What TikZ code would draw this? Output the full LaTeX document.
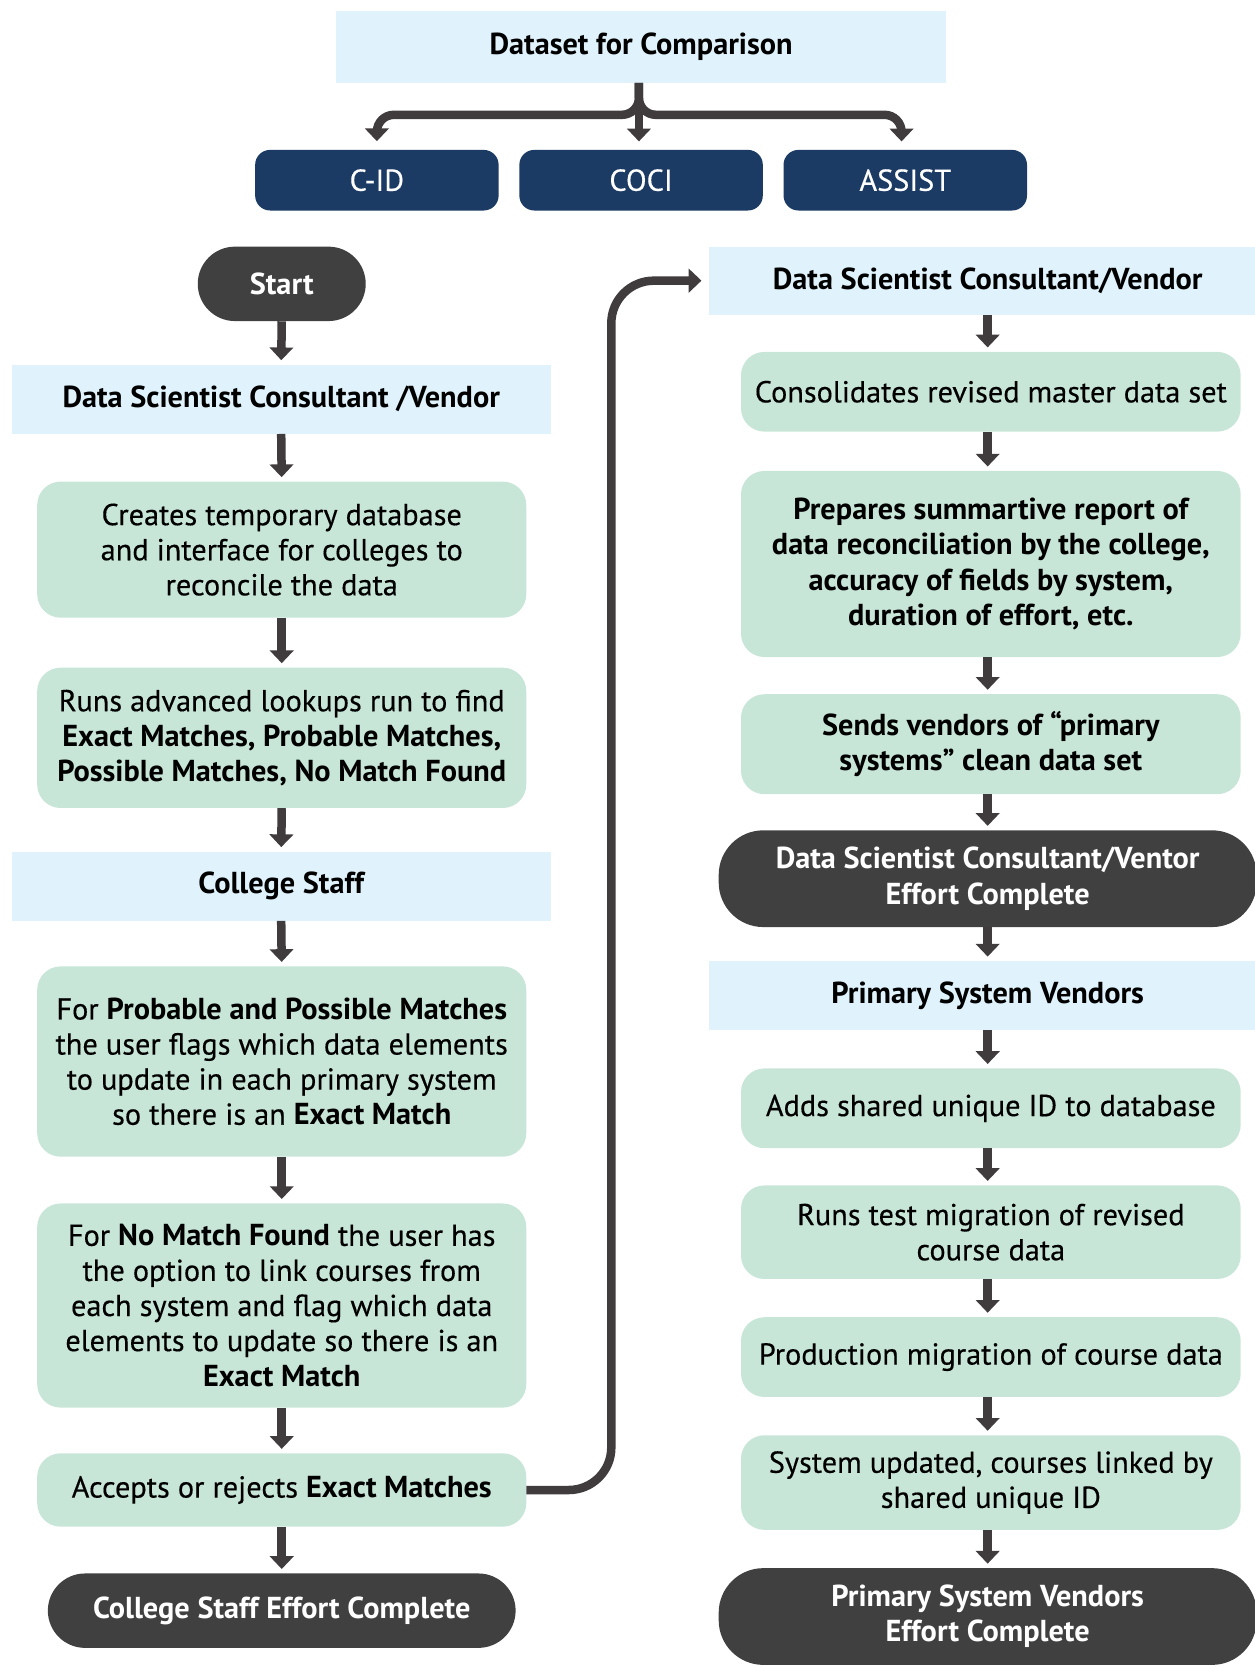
\documentclass[tikz,border=0pt]{standalone}
\usepackage{fontspec}
\setmainfont{PT Sans}[UprightFeatures={FakeBold=0.35}]
\usetikzlibrary{arrows.meta,calc}
\definecolor{hdrblue}{HTML}{E0F3FC}
\definecolor{mint}{HTML}{C8E6D8}
\definecolor{navy}{HTML}{1B3A64}
\definecolor{darkg}{HTML}{404040}
\definecolor{arrowc}{HTML}{403B3C}
\newcommand{\fs}{\fontsize{28.5}{33}\selectfont}
\tikzset{
  hdr/.style={fill=hdrblue, draw=none, inner sep=0pt, align=center, font=\fs\bfseries},
  navybox/.style={fill=navy, draw=none, rounded corners=14pt, inner sep=0pt, align=center, text=white, font=\fs, minimum width=229pt, minimum height=57pt},
  stepbox/.style={fill=mint, draw=none, rounded corners=22pt, inner sep=0pt, align=center, font=\fs, minimum width=460pt},
  rstepbox/.style={stepbox, minimum width=470pt},
  endbox/.style={fill=darkg, draw=none, inner sep=0pt, align=center, text=white, font=\fs\bfseries},
  arr/.style={draw=arrowc, line width=8pt, -{Triangle[width=22pt,length=12pt]}, shorten >=4pt},
}
\begin{document}
\begin{tikzpicture}[x=1pt,y=-1pt]
\useasboundingbox (0,0) rectangle (1180,1568);
% top
\node[hdr, minimum width=574pt, minimum height=68pt] (ds) at (603,44) {Dataset for Comparison};
\node[navybox] (cid) at (354.5,169.5) {C-ID};
\node[navybox] (coci) at (603,169.5) {COCI};
\node[navybox] (assist) at (851.5,169.5) {ASSIST};
\coordinate (dsb) at (601,78);
\draw[arr, rounded corners=16pt, shorten >=8pt] (dsb) |- (cid.north |- 0,108) -- (cid.north);
\draw[arr, rounded corners=16pt, shorten >=8pt] (dsb) |- (848,108) -- (848,141);
\draw[arr, shorten >=8pt] (dsb) -- (601,141);
% left column
\node[endbox, minimum width=158pt, minimum height=70pt, rounded corners=35pt] (start) at (265,267) {Start};
\node[hdr, minimum width=507pt, minimum height=65pt] (lh1) at (264.5,375.5) {Data Scientist Consultant /Vendor};
\node[stepbox, minimum height=128pt] (b1) at (265,517) {Creates temporary database\\and interface for colleges to\\reconcile the data};
\node[stepbox, minimum height=132pt] (b2) at (265,694) {Runs advanced lookups run to find\\\textbf{Exact Matches, Probable Matches,}\\\textbf{Possible Matches, No Match Found}};
\node[hdr, minimum width=507pt, minimum height=65pt] (lh2) at (264.5,833.5) {College Staff};
\node[stepbox, minimum height=179pt] (b3) at (265,998.5) {For \textbf{Probable and Possible Matches}\\the user flags which data elements\\to update in each primary system\\so there is an \textbf{Exact Match}};
\node[stepbox, minimum height=192pt] (b4) at (265,1228) {For \textbf{No Match Found} the user has\\the option to link courses from\\each system and flag which data\\elements to update so there is an\\\textbf{Exact Match}};
\node[stepbox, minimum height=69pt] (acc) at (265,1401.5) {Accepts or rejects \textbf{Exact Matches}};
\node[endbox, minimum width=440pt, minimum height=70pt, rounded corners=35pt] (lend) at (265,1515) {College Staff Effort Complete};
\draw[arr] (start.south) -- (lh1.north);
\draw[arr] (lh1.south) -- (b1.north);
\draw[arr] (b1.south) -- (b2.north);
\draw[arr] (b2.south) -- (lh2.north);
\draw[arr] (lh2.south) -- (b3.north);
\draw[arr] (b3.south) -- (b4.north);
\draw[arr] (b4.south) -- (acc.north);
\draw[arr] (acc.south) -- (lend.north);
% right column
\node[hdr, minimum width=524pt, minimum height=64pt] (rh1) at (929,264) {Data Scientist Consultant/Vendor};
\node[rstepbox, minimum height=75pt] (r1) at (932,368.5) {Consolidates revised master data set};
\node[rstepbox, minimum height=175pt, font=\fs\bfseries] (r2) at (932,530.5) {Prepares summartive report of\\data reconciliation by the college,\\accuracy of fields by system,\\duration of effort, etc.};
\node[rstepbox, minimum height=94pt, font=\fs\bfseries] (r3) at (932,700) {Sends vendors of “primary\\systems” clean data set};
\node[endbox, minimum width=506pt, minimum height=91pt, rounded corners=42pt] (rend1) at (929,826.5) {Data Scientist Consultant/Ventor\\Effort Complete};
\node[hdr, minimum width=524pt, minimum height=65pt] (rh2) at (929,936.5) {Primary System Vendors};
\node[rstepbox, minimum height=75pt] (r4) at (932,1042.5) {Adds shared unique ID to database};
\node[rstepbox, minimum height=88pt] (r5) at (932,1159) {Runs test migration of revised\\course data};
\node[rstepbox, minimum height=75pt] (r6) at (932,1276.5) {Production migration of course data};
\node[rstepbox, minimum height=89pt] (r7) at (932,1394.5) {System updated, courses linked by\\shared unique ID};
\node[endbox, minimum width=506pt, minimum height=91pt, rounded corners=42pt] (rend2) at (929,1520.5) {Primary System Vendors\\Effort Complete};
\draw[arr] (rh1.south) -- (r1.north -| rh1.south);
\draw[arr] (r1.south -| rh1.south) -- (r2.north -| rh1.south);
\draw[arr] (r2.south -| rh1.south) -- (r3.north -| rh1.south);
\draw[arr] (r3.south -| rh1.south) -- (rend1.north);
\draw[arr] (rend1.south) -- (rh2.north);
\draw[arr] (rh2.south) -- (r4.north -| rh2.south);
\draw[arr] (r4.south -| rh2.south) -- (r5.north -| rh2.south);
\draw[arr] (r5.south -| rh2.south) -- (r6.north -| rh2.south);
\draw[arr] (r6.south -| rh2.south) -- (r7.north -| rh2.south);
\draw[arr] (r7.south -| rh2.south) -- (rend2.north);
% cross connector
\coordinate (bend) at (575,264);
\draw[arr, rounded corners=40pt, shorten >=7pt] (acc.east) -| (bend) -- (rh1.west);
\end{tikzpicture}
\end{document}
